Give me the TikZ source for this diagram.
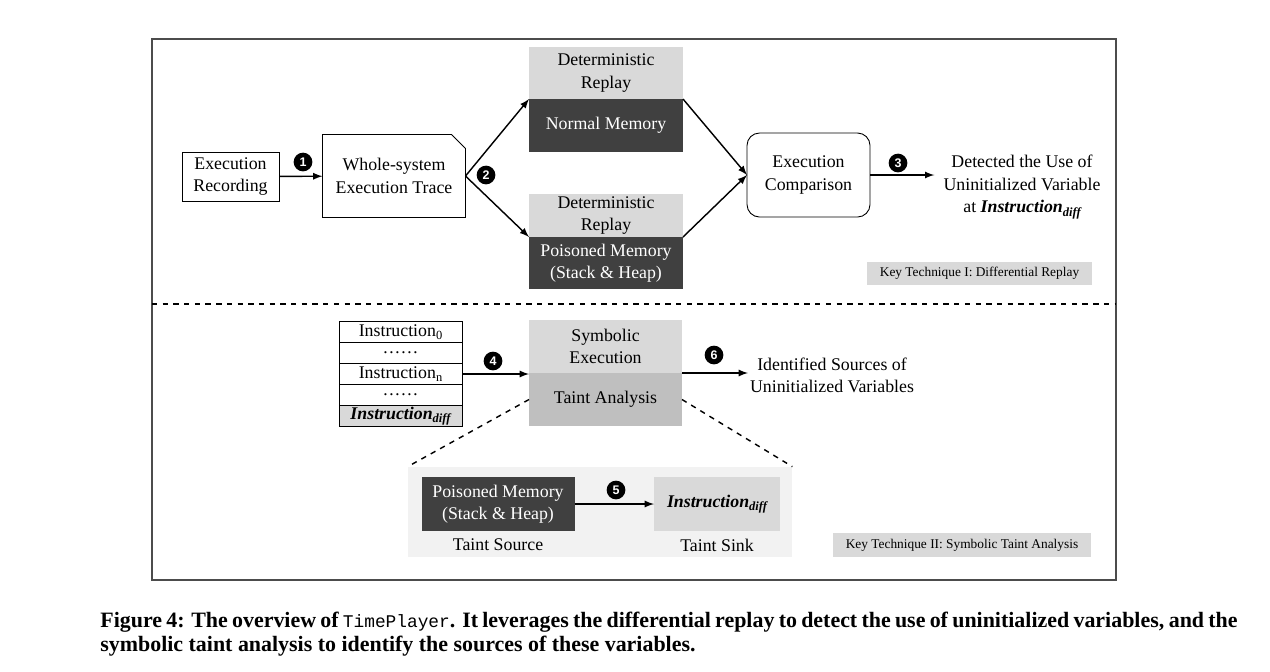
\documentclass[tikz,border=0pt]{standalone}
\usepackage{fontspec}
\setmainfont{Liberation Serif}
\setsansfont{Liberation Sans}
\setmonofont{Liberation Mono}
\usetikzlibrary{positioning,calc}

\newcommand{\px}{0.561pt}
\newcommand{\lowsub}[1]{\raisebox{-0.45ex}{\fontsize{7}{7}\selectfont #1}}
\newcommand{\instdiff}{\textbf{\textit{Instruction}}\lowsub{\bfseries\itshape diff}}

\tikzset{
	procbox/.style={draw, line width=0.5pt, align=center, inner sep=0pt, outer sep=0pt, font=\fontsize{10}{12.5}\selectfont},
	lightbox/.style={procbox, draw=none, fill=black!15},
	darkbox/.style={procbox, draw=none, fill=black!75, text=white},
	badge/.style={circle, fill=black, text=white, inner sep=0pt, minimum size=10.5pt, font=\sffamily\bfseries\fontsize{7}{7}\selectfont},
	keybox/.style={fill=black!15, inner sep=0pt, font=\fontsize{7.5}{8}\selectfont},
	conn/.style={-latex, line width=0.8pt},
}

\begin{document}
\begin{tikzpicture}[x=\px, y=-\px]
	\useasboundingbox (0,0) rectangle (1270,671);
	\draw[black!70, line width=0.6pt] (152,39) rectangle (1116,580);
	\draw[dashed, line width=0.6pt] (152,304) -- (1116,304);
	
	% differential replay
	\node[procbox, minimum width=97*\px, minimum height=49*\px] (rec) at (230.5,176.5) {Execution\\Recording};
	\node[procbox, draw=none, minimum width=143*\px, minimum height=83*\px] (trace) at (394,176) {Whole-system\\Execution Trace};
	\draw[line width=0.5pt] (trace.south west) -- (trace.south east) -- ($(trace.north east)+(0,14)$) -- ($(trace.north east)+(-14,0)$) -- (trace.north west) -- cycle;
	
	\node[lightbox, minimum width=154*\px, minimum height=52*\px] (det1) at (606,73) {Deterministic\\Replay};
	\node[darkbox, minimum width=154*\px, minimum height=53*\px, below=0pt of det1] (norm) {Normal Memory};
	\node[lightbox, minimum width=154*\px, minimum height=43*\px] (det2) at (606,215.5) {Deterministic\\Replay};
	\node[darkbox, minimum width=154*\px, minimum height=52*\px, below=0pt of det2] (pois) {Poisoned Memory\\(Stack \& Heap)};
	
	\node[procbox, rounded corners=7pt, minimum width=123*\px, minimum height=84*\px] (cmp) at (808.5,175) {Execution\\Comparison};
	\node[align=center, inner sep=5pt, font=\fontsize{10}{12.5}\selectfont] (used) at (1022,187) {Detected the Use of\\Uninitialized Variable\\at \instdiff};
	
	\draw[conn] (rec) -- (trace);
	\draw[conn] (trace.east) -- (norm.north west);
	\draw[conn] (trace.east) -- (pois.north west);
	\draw[conn] (norm.north east) -- (cmp.west);
	\draw[conn] (pois.north east) -- (cmp.west);
	\draw[conn] (cmp.east) -- (cmp.east -| used.west);
	
	\node[badge] (b1) at (303,162) {1};
	\node[badge] (b2) at (486,175) {2};
	\node[badge] (b3) at (898,163) {3};
	
	\node[keybox, minimum width=225*\px, minimum height=23*\px] (key1) at (979.5,273.5) {Key Technique I: Differential Replay};
	
	% symbolic taint analysis
	\node[procbox, minimum width=123*\px, minimum height=21*\px] (ins0) at (400.5,332) {Instruction\lowsub{0}};
	\node[procbox, minimum width=123*\px, minimum height=21*\px, below=0pt of ins0] (dots1) {\ldots\ldots};
	\node[procbox, minimum width=123*\px, minimum height=21*\px, below=0pt of dots1] (insn) {Instruction\lowsub{n}};
	\node[procbox, minimum width=123*\px, minimum height=21*\px, below=0pt of insn] (dots2) {\ldots\ldots};
	\node[procbox, fill=black!15, minimum width=123*\px, minimum height=21*\px, below=0pt of dots2] (insd) {\instdiff};
	
	\node[lightbox, minimum width=153*\px, minimum height=53*\px] (sym) at (605.5,346.5) {Symbolic\\Execution};
	\node[lightbox, fill=black!25, minimum width=153*\px, minimum height=53*\px, below=0pt of sym] (taint) {Taint Analysis};
	\node[align=center, inner sep=1pt, font=\fontsize{10}{12.5}\selectfont] (ids) at (832,375) {Identified Sources of\\Uninitialized Variables};
	
	\draw[conn] (insn.east) -- (insn.east -| sym.west);
	\draw[conn] (sym.south east) -- (ids.west |- sym.south east);
	
	\node[badge] (b4) at (493,361) {4};
	\node[badge] (b6) at (714,355) {6};
	
	\node[fill=black!5, inner sep=0pt, minimum width=384*\px, minimum height=90*\px] (panel) at (600,512) {};
	\draw[dashed, line width=0.8pt] (taint.west) -- (panel.north west);
	\draw[dashed, line width=0.8pt] (taint.east) -- (panel.north east);
	
	\node[darkbox, minimum width=153*\px, minimum height=54*\px] (src) at (498,504) {Poisoned Memory\\(Stack \& Heap)};
	\node[lightbox, minimum width=126*\px, minimum height=54*\px] (sink) at (717,504) {\instdiff};
	\node[font=\fontsize{10}{12}\selectfont, inner sep=0pt] (srclbl) at (498,545) {Taint Source};
	\node[font=\fontsize{10}{12}\selectfont, inner sep=0pt] (sinklbl) at (717,545) {Taint Sink};
	\draw[conn] (src) -- (sink);
	\node[badge] (b5) at (616,490) {5};
	
	\node[keybox, minimum width=258*\px, minimum height=24*\px] (key2) at (962,545) {Key Technique II: Symbolic Taint Analysis};
	
	% caption
	\node[anchor=west, inner sep=0pt, font=\bfseries\fontsize{12.3}{14}\selectfont] (cap1) at (100,622) {\makebox[638pt][s]{Figure 4: The overview of {\mdseries\ttfamily\fontsize{10}{10}\selectfont TimePlayer}. It leverages the differential replay to detect the use of uninitialized variables, and the}};
	\node[anchor=west, inner sep=0pt, font=\bfseries\fontsize{12.3}{14}\selectfont] (cap2) at (100,646) {symbolic taint analysis to identify the sources of these variables.};
\end{tikzpicture}
\end{document}
